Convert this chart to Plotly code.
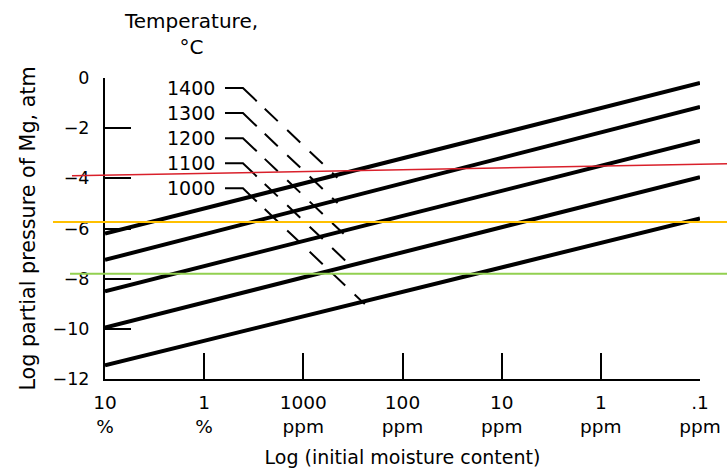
import plotly.graph_objects as go

# Moisture content axis: log10 of the initial moisture content in ppm (10 % = 1e5 ppm)
moisture_log_ppm = [5, 4, 3, 2, 1, 0, -1]
moisture_labels = ["10<br>%", "1<br>%", "1000<br>ppm", "100<br>ppm",
                   "10<br>ppm", "1<br>ppm", ".1<br>ppm"]

# Log partial pressure axis
pressure_ticks = [0, -2, -4, -6, -8, -10, -12]
pressure_labels = ["0", "\u22122", "\u22124", "\u22126", "\u22128", "\u221210", "\u221212"]

# Equilibrium Mg pressure lines, one per temperature
temperatures_c = [1400, 1300, 1200, 1100, 1000]
log_p_at_10pct = [-6.2, -7.25, -8.5, -9.95, -11.45]   # at 10 % moisture
log_p_at_01ppm = [-0.2, -1.15, -2.5, -3.95, -5.6]     # at 0.1 ppm moisture

# Highlighted pressure levels (left end, right end)
red_level = [-3.90, -3.42]
orange_level = [-5.74, -5.74]
green_level = [-7.80, -7.80]

FONT = "DejaVu Sans"
X_LEFT, X_RIGHT = 5, -1

fig = go.Figure()

# Temperature lines
for t, pl, pr in zip(temperatures_c, log_p_at_10pct, log_p_at_01ppm):
    fig.add_trace(go.Scatter(
        x=[X_LEFT, X_RIGHT], y=[pl, pr], mode="lines",
        line=dict(color="black", width=4), name=f"{t} \u00b0C",
        showlegend=False, hoverinfo="skip"))

# Key: temperature labels with dashed leaders down to their lines
key_rows = [-0.4, -1.4, -2.4, -3.4, -4.4]
label_x = 3.871        # right edge of the label text
leader_x0 = 3.79       # start of the short horizontal stroke
leader_elbow = 3.609   # where the leader turns down
leader_slope = 3.756   # log-p units per decade along the leader
overshoot = 0.025
leader_dash = "37px,11px,18px,13px,18px,13px,18px,13px,18px,13px,18px,13px,18px,13px"

u_elbow = X_LEFT - leader_elbow
for t, row, pl, pr in zip(temperatures_c, key_rows, log_p_at_10pct, log_p_at_01ppm):
    k = (pr - pl) / (X_LEFT - X_RIGHT)
    u_end = (row + leader_slope * u_elbow - pl) / (leader_slope + k) + overshoot
    x_end = X_LEFT - u_end
    y_end = row - leader_slope * (u_end - u_elbow)
    fig.add_trace(go.Scatter(
        x=[leader_x0, leader_elbow, x_end], y=[row, row, y_end], mode="lines",
        line=dict(color="black", width=2, dash=leader_dash),
        showlegend=False, hoverinfo="skip"))
    fig.add_annotation(x=label_x, y=row, xref="x", yref="y", text=str(t),
                       showarrow=False, xanchor="right", yanchor="middle",
                       font=dict(family=FONT, size=19, color="black"))

fig.add_annotation(x=0.1445, y=1.235, xref="paper", yref="paper",
                   text="Temperature,<br>\u00b0C", showarrow=False,
                   xanchor="center", yanchor="top",
                   font=dict(family=FONT, size=20, color="black"))

# Highlighted levels spanning past the plot frame
for lvl, color, x0, w in [(red_level, "#d9202b", -0.0555, 1.5),
                          (orange_level, "#ffc000", -0.0874, 2),
                          (green_level, "#92d050", -0.0588, 2)]:
    fig.add_shape(type="line", xref="paper", yref="y",
                  x0=x0, x1=1.0454, y0=lvl[0], y1=lvl[1],
                  line=dict(color=color, width=w), layer="above")

fig.update_xaxes(
    range=[X_LEFT, X_RIGHT], tickvals=moisture_log_ppm, ticktext=moisture_labels,
    ticks="inside", ticklen=26, tickwidth=2, tickcolor="black",
    showline=True, linewidth=2, linecolor="black",
    showgrid=False, zeroline=False, automargin=False,
    ticklabelstandoff=6,
    tickfont=dict(family=FONT, size=18.5, color="black"),
    title=dict(text="Log (initial moisture content)", standoff=14,
               font=dict(family=FONT, size=19, color="black")))

fig.update_yaxes(
    range=[-12, 0], tickvals=pressure_ticks, ticktext=pressure_labels,
    ticks="inside", ticklen=26, tickwidth=2, tickcolor="black",
    showline=True, linewidth=2, linecolor="black",
    showgrid=False, zeroline=False, automargin=False,
    ticklabelstandoff=10,
    tickfont=dict(family=FONT, size=17.5, color="black"),
    title=dict(text="Log partial pressure of Mg, atm", standoff=11,
               font=dict(family=FONT, size=20.7, color="black")))

fig.update_layout(
    width=727, height=474,
    margin=dict(l=105, r=27, t=78, b=95),
    plot_bgcolor="white", paper_bgcolor="white",
    showlegend=False)

fig.write_html("out.html")
